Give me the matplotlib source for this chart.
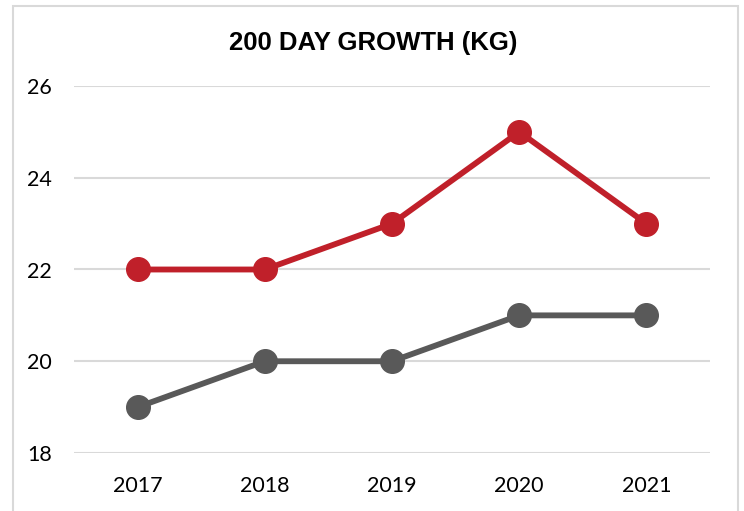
import matplotlib
matplotlib.use("Agg")
import matplotlib.pyplot as plt
from matplotlib.patches import Rectangle

years = ["2017", "2018", "2019", "2020", "2021"]
red_series = [22, 22, 23, 25, 23]
gray_series = [19, 20, 20, 21, 21]
y_ticks = [18, 20, 22, 24, 26]
title = "200 DAY GROWTH (KG)"

W, H = 744, 511
fig = plt.figure(figsize=(W / 100, H / 100), dpi=100)
fig.patch.set_facecolor("white")

# outer border
fig.patches.append(Rectangle((13 / W, -0.05), (738 - 13) / W, 1.05 - 6 / H,
                             transform=fig.transFigure, fill=False,
                             edgecolor="#D9D9D9", linewidth=1.5))

ax = fig.add_axes([74 / W, (H - 453) / H, (710 - 74) / W, (453 - 86) / H])
x = list(range(len(years)))
ax.plot(x, gray_series, color="#595959", linewidth=4.2, marker="o",
        markersize=17, zorder=3)
ax.plot(x, red_series, color="#C0202A", linewidth=4.2, marker="o",
        markersize=17, zorder=4)

ax.set_xlim(-0.5, len(years) - 0.5)
ax.set_ylim(18, 26)
ax.set_yticks(y_ticks)
ax.set_xticks(x)
ax.set_xticklabels(years)
for s in ax.spines.values():
    s.set_visible(False)
ax.grid(axis="y", color="#D9D9D9", linewidth=1.5, zorder=0)
ax.set_axisbelow(True)
ax.tick_params(axis="both", length=0, labelsize=15.5, labelcolor="#000000")
ax.tick_params(axis="y", pad=16)
ax.tick_params(axis="x", pad=16.5)
for lab in ax.get_xticklabels() + ax.get_yticklabels():
    lab.set_fontfamily("Lato")
for ln in ax.lines:
    ln.set_clip_on(False)

fig.text(373 / W, 1 - 43 / H, title, ha="center", va="center",
         fontsize=18.5, fontweight="bold", family="Liberation Sans")

fig.savefig("out.png", dpi=100, facecolor="white")
